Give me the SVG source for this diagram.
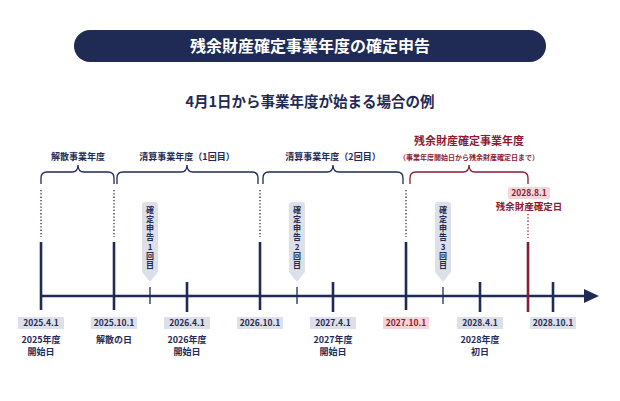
<svg xmlns="http://www.w3.org/2000/svg" width="620" height="401" viewBox="0 0 620 401">
<style>
text{font-family:"Noto Sans CJK JP","Noto Sans",sans-serif;font-weight:bold;fill:#1f2a55;text-anchor:middle}
.s{font-size:9px}
.d{font-size:8.5px}
.r{fill:#8b1a32}
.v{font-size:8px;writing-mode:vertical-rl;text-orientation:upright;letter-spacing:1.2px}
.ln{stroke:#1f2a55;stroke-width:2.6;fill:none}
.thin{stroke:#1f2a55;stroke-width:1.3;fill:none}
.dot{stroke:#1f2a55;stroke-width:1.3;stroke-dasharray:1.3 2;fill:none}
.br{stroke:#1f2a55;stroke-width:1.3;fill:none}
.bg{fill:#dde0e8}
.badge{fill:#dde0e8}
</style>
<rect width="620" height="401" fill="#fff"/>
<g id="title"><rect x="74" y="30" width="472" height="32" rx="16" fill="#1f2a55"/><text x="310" y="52" style="font-size:16px;fill:#fff">残余財産確定事業年度の確定申告</text></g>
<text x="310" y="107" style="font-size:14.5px">4月1日から事業年度が始まる場合の例</text>
<g id="connectors">
<line class="ln" x1="41" y1="296" x2="586" y2="296"/>
<polygon points="584,289 599,296 584,303" fill="#1f2a55"/>
<g class="ln"><line x1="41" y1="242" x2="41" y2="310"/><line x1="114" y1="242" x2="114" y2="310"/><line x1="260" y1="242" x2="260" y2="310"/><line x1="406" y1="242" x2="406" y2="310"/>
<line x1="187" y1="282" x2="187" y2="312"/><line x1="333" y1="282" x2="333" y2="312"/><line x1="480" y1="282" x2="480" y2="312"/><line x1="553" y1="282" x2="553" y2="312"/></g>
<line x1="528" y1="242" x2="528" y2="312" stroke="#8b1a32" stroke-width="2.6"/>
<g class="thin"><line x1="150" y1="287" x2="150" y2="304"/><line x1="297" y1="287" x2="297" y2="304"/><line x1="443" y1="287" x2="443" y2="304"/></g>
<g class="dot"><line x1="41" y1="190" x2="41" y2="237"/><line x1="114" y1="190" x2="114" y2="237"/><line x1="260" y1="190" x2="260" y2="237"/><line x1="406" y1="190" x2="406" y2="237"/></g>
<line x1="528" y1="214" x2="528" y2="238" stroke="#8b1a32" stroke-width="1.3" stroke-dasharray="1.3 2"/>
<path class="br" d="M41,184 V178 Q41,172 47,172 H72 Q78,172 78,165 Q78,172 84,172 H108 Q114,172 114,178 V184"/>
<path class="br" d="M117,184 V178 Q117,172 123,172 H181 Q187,172 187,165 Q187,172 193,172 H252 Q258,172 258,178 V184"/>
<path class="br" d="M263,184 V178 Q263,172 269,172 H327 Q333,172 333,165 Q333,172 339,172 H397 Q403,172 403,178 V184"/>
<path d="M410,184 V178 Q410,172 416,172 H463 Q469,172 469,165 Q469,172 475,172 H522 Q528,172 528,178 V184" stroke="#8b1a32" stroke-width="1.3" fill="none"/>
</g>
<g id="labels-top">
<text class="s" x="78" y="160">解散事業年度</text>
<text class="s" x="187" y="160">清算事業年度（1回目）</text>
<text class="s" x="333" y="160">清算事業年度（2回目）</text>
<text class="r" x="469" y="145" style="font-size:11px">残余財産確定事業年度</text>
<text class="r" x="469" y="160" style="font-size:7px">（事業年度開始日から残余財産確定日まで）</text>
<rect x="508" y="187" width="42" height="12" rx="2" fill="#f5d5d9"/>
<text class="r d" x="529" y="196">2028.8.1</text>
<text class="r" x="529" y="210" style="font-size:9.5px">残余財産確定日</text>
</g>
<g id="badge1"><path class="badge" d="M145,202 h10 q3,0 3,3 v67 l-8,10 l-8,-10 v-67 q0,-3 3,-3z"/>
<text class="v" x="150" y="238">確定申告1回目</text></g>
<g id="badge2"><path class="badge" d="M292,202 h10 q3,0 3,3 v67 l-8,10 l-8,-10 v-67 q0,-3 3,-3z"/>
<text class="v" x="297" y="238">確定申告2回目</text></g>
<g id="badge3"><path class="badge" d="M438,202 h10 q3,0 3,3 v67 l-8,10 l-8,-10 v-67 q0,-3 3,-3z"/>
<text class="v" x="443" y="238">確定申告3回目</text></g>
<g id="dates">
<rect class="bg" x="18" y="317" width="46" height="12"/><text class="d" x="41" y="326">2025.4.1</text>
<rect class="bg" x="91" y="317" width="46" height="12"/><text class="d" x="114" y="326">2025.10.1</text>
<rect class="bg" x="164" y="317" width="46" height="12"/><text class="d" x="187" y="326">2026.4.1</text>
<rect class="bg" x="237" y="317" width="46" height="12"/><text class="d" x="260" y="326">2026.10.1</text>
<rect class="bg" x="310" y="317" width="46" height="12"/><text class="d" x="333" y="326">2027.4.1</text>
<rect x="383" y="317" width="46" height="12" fill="#f5d5d9"/><text class="d r" x="406" y="326">2027.10.1</text>
<rect class="bg" x="457" y="317" width="46" height="12"/><text class="d" x="480" y="326">2028.4.1</text>
<rect class="bg" x="530" y="317" width="46" height="12"/><text class="d" x="553" y="326">2028.10.1</text>
<text class="s" x="41" y="343">2025年度</text><text class="s" x="41" y="355">開始日</text>
<text class="s" x="114" y="343">解散の日</text>
<text class="s" x="187" y="343">2026年度</text><text class="s" x="187" y="355">開始日</text>
<text class="s" x="333" y="343">2027年度</text><text class="s" x="333" y="355">開始日</text>
<text class="s" x="480" y="343">2028年度</text><text class="s" x="480" y="355">初日</text>
</g>
</svg>
